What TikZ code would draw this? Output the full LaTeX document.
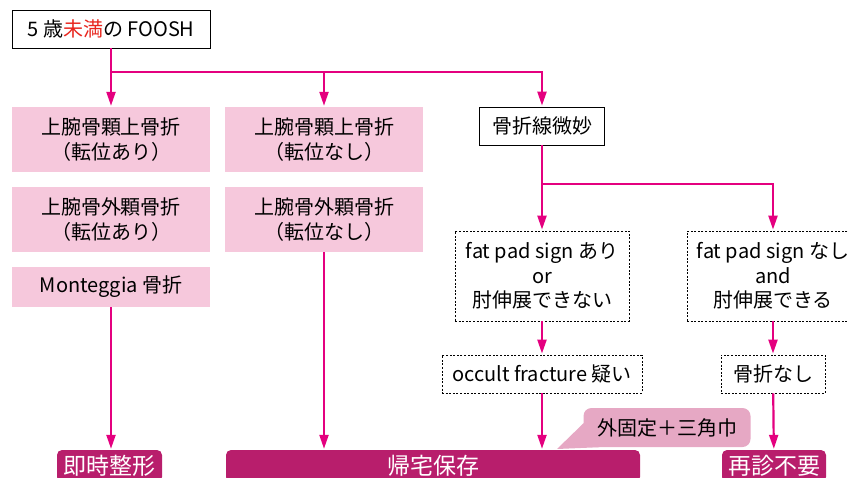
\documentclass[tikz,border=0pt]{standalone}
\usepackage{fontspec}
\setmainfont{Noto Sans CJK JP}
\usetikzlibrary{positioning,arrows.meta}

\definecolor{flowpink}{HTML}{E4007F}
\definecolor{boxpink}{HTML}{F6C8DC}
\definecolor{barpink}{HTML}{B81E6C}
\definecolor{notepink}{HTML}{E6A8C4}
\definecolor{warnred}{HTML}{E8261E}
\newcommand{\boxfont}{\fontsize{20pt}{24.5pt}\selectfont}
\newcommand{\barfont}{\fontsize{23pt}{26pt}\selectfont}

\tikzset{
  plainbox/.style={draw=black,line width=0.8pt,fill=white,minimum width=198pt,
    minimum height=38pt,inner sep=0pt,font=\boxfont},
  pinkbox/.style={fill=boxpink,minimum width=198pt,minimum height=65pt,
    inner sep=0pt,align=center,font=\boxfont},
  dashbox/.style={draw=black,line width=0.8pt,dash pattern=on 2pt off 1.6pt,
    minimum width=174pt,minimum height=90pt,inner sep=0pt,align=center,font=\boxfont},
  resultbar/.style={fill=barpink,rounded corners=5pt,text=white,
    minimum height=32pt,inner sep=0pt,font=\barfont},
  notebox/.style={fill=notepink,rounded corners=8pt,minimum width=167pt,
    minimum height=39pt,inner sep=0pt,font=\boxfont},
  flow/.style={draw=flowpink,line width=2.2pt}
}

\begin{document}
\begin{tikzpicture}[x=1pt,y=-1pt,shorten >=1pt,node distance=80pt,on grid,
    >={Triangle[length=14pt,width=9pt]},every edge/.style={flow}]
   \useasboundingbox (0,0) rectangle (849,477);
   % start and the three columns
   \node[plainbox] (fosh) at (111,29) {5 歳\textcolor{warnred}{未満}の FOOSH};
   \node[pinkbox] (supdisp) at (111,139.5) {上腕骨顆上骨折\\（転位あり）};
   \node[pinkbox] (latdisp) [below=of supdisp] {上腕骨外顆骨折\\（転位あり）};
   \node[pinkbox,minimum height=40pt] (mont) [below=67.5pt of latdisp] {Monteggia 骨折};
   \node[pinkbox] (supnond) [right=213pt of supdisp] {上腕骨顆上骨折\\（転位なし）};
   \node[pinkbox] (latnond) [below=of supnond] {上腕骨外顆骨折\\（転位なし）};
   \node[plainbox,minimum width=125pt] (subtle) at (542,126) {骨折線微妙};
   \node[dashbox] (fpyes) at (542,276) {fat pad sign あり\\or\\肘伸展できない};
   \node[dashbox,minimum width=172pt] (fpno) [right=231pt of fpyes] {fat pad sign なし\\and\\肘伸展できる};
   \node[dashbox,minimum width=200pt,minimum height=38pt] (occult) [below=98pt of fpyes] {occult fracture 疑い};
   \node[dashbox,minimum width=104pt,minimum height=38pt] (nofx) [below=98pt of fpno] {骨折なし};
   % results
   \node[resultbar,minimum width=105pt] (reduce) at (109.5,466) {即時整形};
   \node[resultbar,minimum width=414pt] (home) at (433,466) {帰宅保存};
   \node[resultbar,minimum width=104pt] (norevisit) at (774,466) {再診不要};
   \node[notebox] (splint) at (667,427.5) {外固定＋三角巾};
   \coordinate (tip) at (557,449);
   \fill[notepink] ([xshift=2pt,yshift=6pt]splint.west) -- (tip)
      -- ([xshift=16pt]splint.south west) -- cycle;
   % connectors
   \coordinate (split) at (111,72);
   \coordinate (split2) at (542,184);
   \draw[flow,shorten >=0pt] (fosh) -- (split);
   \path[->]
    (split) edge (supdisp)
            edge [to path={-| (\tikztotarget)}] (supnond)
            edge [to path={-| (\tikztotarget)}] (subtle);
   \draw[flow,shorten >=0pt] (subtle) -- (split2);
   \path[->]
    (split2) edge (fpyes)
             edge [to path={-| (\tikztotarget)}] (fpno)
    (fpyes) edge (occult)
    (fpno) edge (nofx)
    (mont.south) edge (mont.south |- reduce.north)
    (latnond.south) edge (latnond.south |- home.north)
    (occult.south) edge (occult.south |- home.north)
    (nofx) edge (norevisit);
\end{tikzpicture}
\end{document}
